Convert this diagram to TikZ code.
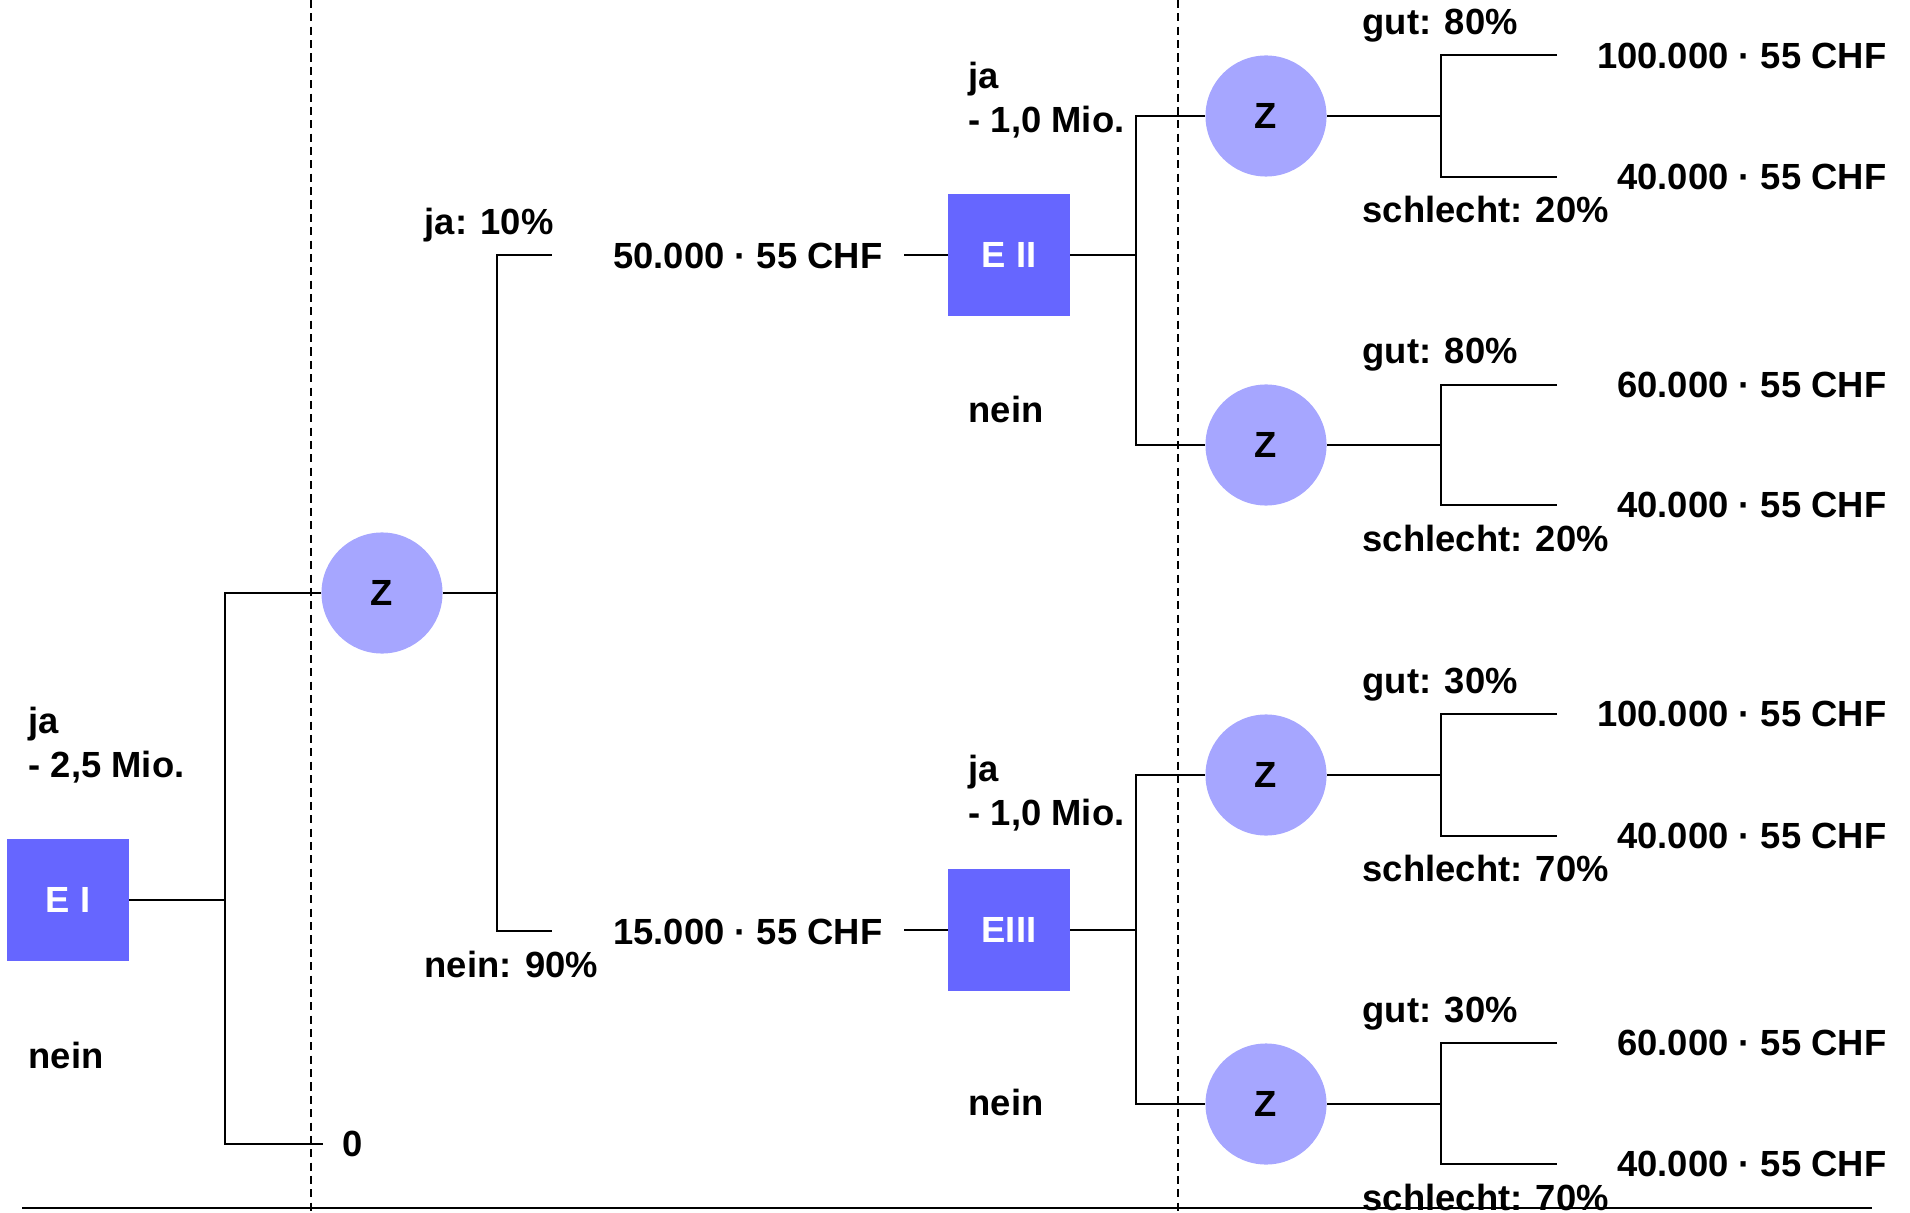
\documentclass[tikz,border=0pt]{standalone}
\usepackage{fontspec}
\setmainfont{Liberation Sans}
\usepackage{tikz}
\usetikzlibrary{positioning}
\definecolor{boxblue}{RGB}{102,102,255}
\definecolor{zblue}{RGB}{166,166,255}
\newcommand{\lblfont}{\bfseries\fontsize{10.35}{12.4}\selectfont}
\tikzstyle{entscheid} = [rectangle, fill=boxblue, minimum size=1.21cm, inner sep=0pt, text=white, font=\lblfont]
\tikzstyle{zufall} = [circle, fill=zblue, minimum size=1.21cm, inner sep=0pt, font=\lblfont]
\tikzstyle{lbl} = [anchor=west, align=left, inner sep=0pt, font=\lblfont]
\tikzstyle{wert} = [anchor=east, inner sep=0pt, font=\lblfont]
\tikzstyle{ast} = [line width=0.7pt]
\tikzstyle{trenn} = [line width=0.5pt, dash pattern=on 2.3pt off 1.5pt]

\begin{document}
\begin{tikzpicture}[x=0.01cm, y=-0.01cm]
\useasboundingbox (0,0) rectangle (1910,1213);

% Trennlinien
\draw[trenn] (311,0) -- (311,1213);
\draw[trenn] (1178,0) -- (1178,1213);
\draw[line width=0.6pt] (22,1208) -- (1872,1208);

% Entscheidung I
\node[entscheid] (e1) at (68,900) {E I};
\coordinate (f1) at (225,900);
\node[zufall] (z1) at (382,593) {Z};
\coordinate (null) at (323,1144);
\node[lbl] at (342,1144) {0};
\node[lbl] at (28,745) {ja\\- 2,5 Mio.};
\node[lbl] at (28,1055) {nein};
\draw[ast] (e1.east) -- (f1) |- (z1.west);
\draw[ast] (f1) |- (null);

% Zufall: Marktstudie
\coordinate (f2) at (497,593);
\coordinate (ja1) at (552,255);
\coordinate (nein1) at (552,931);
\draw[ast] (z1.east) -- (f2) |- (ja1);
\draw[ast] (f2) |- (nein1);
\node[lbl] at (424,225) {ja: 10\%};
\node[lbl] at (424,964) {nein: 90\%};
\node[wert] at (883,256) {50.000 · 55 CHF};
\node[wert] at (883,932) {15.000 · 55 CHF};

% Entscheidung II
\node[entscheid] (e2) at (1009,255) {E II};
\coordinate (v2) at (904,255);
\draw[ast] (v2) -- (e2.west);
\coordinate (f3) at (1136,255);
\node[zufall] (z2) at (1266,116) {Z};
\node[zufall] (z3) at (1266,445) {Z};
\draw[ast] (e2.east) -- (f3) |- (z2.west);
\draw[ast] (f3) |- (z3.west);
\node[lbl] at (968,100) {ja\\- 1,0 Mio.};
\node[lbl] at (968,409) {nein};

% Entscheidung III
\node[entscheid] (e3) at (1009,930) {EIII};
\coordinate (v3) at (904,930);
\draw[ast] (v3) -- (e3.west);
\coordinate (f4) at (1136,930);
\node[zufall] (z4) at (1266,775) {Z};
\node[zufall] (z5) at (1266,1104) {Z};
\draw[ast] (e3.east) -- (f4) |- (z4.west);
\draw[ast] (f4) |- (z5.west);
\node[lbl] at (968,793) {ja\\- 1,0 Mio.};
\node[lbl] at (968,1102) {nein};

% Zufall: Absatz
\coordinate (g2) at (1441,116);
\coordinate (g3) at (1441,445);
\coordinate (g4) at (1441,775);
\coordinate (g5) at (1441,1104);
\draw[ast] (z2.east) -- (g2) (1557,55) -| (g2) |- (1557,177);
\draw[ast] (z3.east) -- (g3) (1557,385) -| (g3) |- (1557,505);
\draw[ast] (z4.east) -- (g4) (1557,714) -| (g4) |- (1557,836);
\draw[ast] (z5.east) -- (g5) (1557,1043) -| (g5) |- (1557,1164);

\node[lbl] at (1362,26) {gut: 80\%};
\node[lbl] at (1362,209) {schlecht: 20\%};
\node[lbl] at (1362,355) {gut: 80\%};
\node[lbl] at (1362,538) {schlecht: 20\%};
\node[lbl] at (1362,685) {gut: 30\%};
\node[lbl] at (1362,868) {schlecht: 70\%};
\node[lbl] at (1362,1014) {gut: 30\%};
\node[lbl] at (1362,1197) {schlecht: 70\%};

\node[wert] at (1887,56) {100.000 · 55 CHF};
\node[wert] at (1887,177) {40.000 · 55 CHF};
\node[wert] at (1887,385) {60.000 · 55 CHF};
\node[wert] at (1887,505) {40.000 · 55 CHF};
\node[wert] at (1887,714) {100.000 · 55 CHF};
\node[wert] at (1887,836) {40.000 · 55 CHF};
\node[wert] at (1887,1043) {60.000 · 55 CHF};
\node[wert] at (1887,1164) {40.000 · 55 CHF};
\end{tikzpicture}
\end{document}
